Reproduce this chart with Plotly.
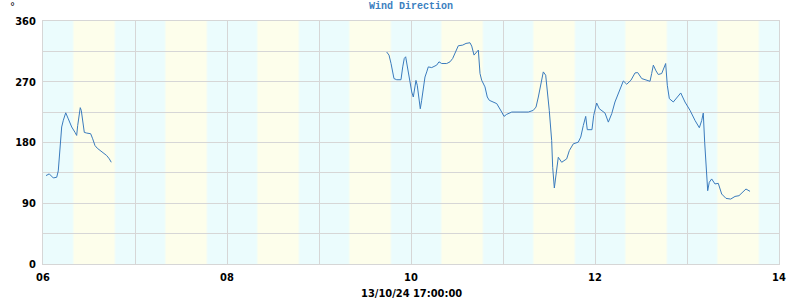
import plotly.graph_objects as go

# ---- data ----
seg1_x = [6.033, 6.068, 6.112, 6.149, 6.166, 6.177, 6.192, 6.203, 6.221, 6.247, 6.275, 6.312,
          6.348, 6.366, 6.377, 6.391, 6.405, 6.416, 6.432, 6.449, 6.475, 6.518, 6.540, 6.565,
          6.590, 6.620, 6.655, 6.692, 6.721, 6.742]
seg1_y = [131, 133.5, 127.5, 128.5, 138, 156, 173, 203, 213, 224, 215, 203,
          195, 190.5, 205, 220, 231.6, 227.6, 212.8, 195, 194, 193, 185.5, 175.5,
          171.5, 168, 164, 160.7, 155.7, 150.7]

seg2_x = [9.736, 9.761, 9.783, 9.801, 9.815, 9.845, 9.891, 9.910, 9.927, 9.942, 9.953, 9.971,
          9.989, 10.008, 10.025, 10.040, 10.054, 10.068, 10.084, 10.101, 10.116, 10.134, 10.152,
          10.171, 10.188, 10.225, 10.261, 10.279, 10.304, 10.334, 10.388, 10.424, 10.453, 10.482,
          10.514, 10.562, 10.598, 10.641, 10.660, 10.685, 10.707, 10.732, 10.750, 10.768, 10.804,
          10.829, 10.851, 10.895, 10.932, 10.986, 11.011, 11.040, 11.095, 11.185, 11.275, 11.329,
          11.359, 11.384, 11.410, 11.438, 11.464, 11.482, 11.503, 11.529, 11.540, 11.558, 11.576,
          11.601, 11.638, 11.692, 11.721, 11.764, 11.818, 11.845, 11.873, 11.899, 11.916, 11.967,
          11.986, 12.018, 12.047, 12.109, 12.145, 12.182, 12.217, 12.272, 12.308, 12.345, 12.391,
          12.435, 12.464, 12.508, 12.562, 12.598, 12.616, 12.634, 12.663, 12.688, 12.725, 12.750,
          12.768, 12.786, 12.808, 12.851, 12.895, 12.932, 12.978, 13.033, 13.087, 13.134, 13.160,
          13.177, 13.192, 13.207, 13.225, 13.242, 13.268, 13.304, 13.340, 13.377, 13.424, 13.475,
          13.522, 13.565, 13.612, 13.641, 13.685]
seg2_y = [314, 309.5, 297, 282, 274.7, 273, 273, 292, 304.5, 307, 297, 284.6,
          269.7, 254.8, 247.4, 260, 272, 264.8, 247.4, 230, 242.5, 264.8, 277,
          284.6, 292, 291, 293, 294.6, 299.5, 297, 297, 299.5, 304.5, 314.4,
          323.3, 324.3, 326.8, 327.8, 322.8, 309.5, 312.9, 316.9, 282.2, 272.3, 262.4,
          247.4, 242.5, 240, 237.6, 225.1, 218.7, 221.7, 225.1, 225.1, 225.1, 227.6,
          232.5, 247.4, 264.8, 284.6, 279.7, 257.4, 227.6, 183, 143.3, 112.6, 131,
          158.1, 150.7, 155.7, 168, 178, 180.5, 188, 205.3, 218.7, 199, 199,
          220.2, 238.5, 230, 223.6, 210.2, 222.7, 240, 257.4, 271.2, 266.3, 272.3,
          283.1, 283.6, 274.7, 272.3, 270.7, 282.2, 294.6, 286.1, 280.7, 282.2, 289.6,
          297, 264.8, 245, 240, 247.4, 253.4, 240, 227.6, 212.7, 201.9, 212.7,
          223.6, 180.5, 150.7, 108.6, 121, 126, 118.6, 119.5, 103.7, 97.2, 96.2,
          100.1, 101.2, 107.6, 111.1, 107.6]

band_days = [6, 7, 8, 9, 10, 11, 12, 13]
day_start = 0.335   # fraction of the day where the daylight band begins
day_end = 0.775     # fraction of the day where the daylight band ends

x_tickvals = [6, 7, 8, 9, 10, 11, 12, 13, 14]
x_ticktext = ["06", "", "08", "", "10", "", "12", "", "14"]
y_tickvals = [0, 45, 90, 135, 180, 225, 270, 315, 360]
y_ticktext = ["0", "", "90", "", "180", "", "270", "", "360"]

title_text = "Wind Direction"
unit_text = "°"
x_title = "13/10/24 17:00:00"

# ---- styling ----
NIGHT = "#ebfcfd"
DAY = "#fdfeeb"
MIX = "#f4fdf4"
GRID = "#d6d6d6"
LINE = "#3a7bbd"
LABEL_FONT = dict(family="Liberation Sans Narrow, DejaVu Sans Condensed, Liberation Sans, sans-serif",
                  size=11, color="black", weight="bold")

x_all = seg1_x + [None] + seg2_x
y_all = seg1_y + [None] + seg2_y

fig = go.Figure()
fig.add_trace(go.Scatter(x=x_all, y=y_all, mode="lines",
                         line=dict(color=LINE, width=1), connectgaps=False,
                         hoverinfo="skip", showlegend=False))

shapes = []
soft = 0.012
for d in band_days:
    shapes.append(dict(type="rect", xref="x", yref="y", x0=d, x1=d + 1, y0=0, y1=360,
                       fillcolor=NIGHT, line_width=0, layer="below"))
    shapes.append(dict(type="rect", xref="x", yref="y", x0=d + day_start - soft, x1=d + day_end + soft,
                       y0=0, y1=360, fillcolor=MIX, line_width=0, layer="below"))
    shapes.append(dict(type="rect", xref="x", yref="y", x0=d + day_start, x1=d + day_end,
                       y0=0, y1=360, fillcolor=DAY, line_width=0, layer="below"))

fig.update_layout(
    width=800, height=300,
    margin=dict(l=43, r=21, t=21, b=36),
    paper_bgcolor="white", plot_bgcolor="white",
    shapes=shapes,
    showlegend=False,
    annotations=[
        dict(text=title_text, x=0.5, xref="paper", y=1, yref="paper", yshift=15,
             showarrow=False, xanchor="center", yanchor="middle",
             font=dict(family="Liberation Mono, DejaVu Sans Mono, monospace", size=10,
                       color="#3b80c0", weight="bold")),
        dict(text=unit_text, x=0, xref="paper", xshift=-31, y=1, yref="paper", yshift=15,
             showarrow=False, xanchor="center", yanchor="middle",
             font=dict(family="DejaVu Sans", size=10, color="black")),
        dict(text=x_title, x=0.5, xref="paper", y=0, yref="paper", yshift=-29,
             showarrow=False, xanchor="center", yanchor="middle", font=LABEL_FONT),
    ],
    xaxis=dict(range=[6, 14], tickmode="array", tickvals=x_tickvals, ticktext=x_ticktext,
               showgrid=True, gridcolor=GRID, gridwidth=1, zeroline=False,
               showline=True, linecolor=GRID, linewidth=1, mirror=True,
               ticks="", tickfont=LABEL_FONT, ticklabelstandoff=3, layer="above traces"),
    yaxis=dict(range=[0, 360], tickmode="array", tickvals=y_tickvals, ticktext=y_ticktext,
               showgrid=True, gridcolor=GRID, gridwidth=1, zeroline=False,
               showline=True, linecolor=GRID, linewidth=1, mirror=True,
               ticks="", tickfont=LABEL_FONT, ticklabelstandoff=4, layer="above traces"),
)

fig.write_html("out.html")
